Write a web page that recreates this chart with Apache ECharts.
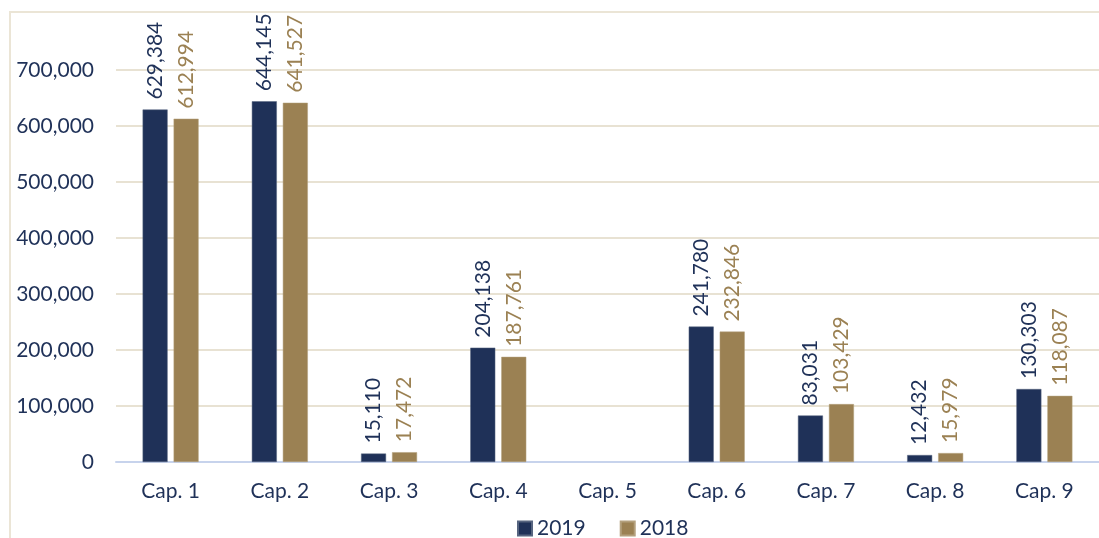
<!DOCTYPE html>
<html>
<head>
<meta charset="utf-8">
<script src="https://cdn.jsdelivr.net/npm/echarts@6/dist/echarts.min.js"></script>
<style>
  html, body { margin: 0; padding: 0; background: #fff; }
  #chart { width: 1099px; height: 538px; }
</style>
</head>
<body>
<div id="chart"></div>
<script>
const categories = ['Cap. 1', 'Cap. 2', 'Cap. 3', 'Cap. 4', 'Cap. 5', 'Cap. 6', 'Cap. 7', 'Cap. 8', 'Cap. 9']
const values2019 = [629384, 644145, 15110, 204138, null, 241780, 83031, 12432, 130303]
const values2018 = [612994, 641527, 17472, 187761, null, 232846, 103429, 15979, 118087]

const navy = '#1f3158'
const gold = '#9b8153'
const fmt = v => v.toLocaleString('en-US')

const chart = echarts.init(document.getElementById('chart'))
chart.setOption({
  animation: false,
  textStyle: { fontFamily: 'Lato, "Open Sans", sans-serif' },
  graphic: [{
    type: 'rect',
    shape: { x: 10, y: 12, width: 1200, height: 600 },
    style: { fill: 'none', stroke: '#ebe5d6', lineWidth: 2 },
    silent: true
  }],
  grid: { left: 116, top: 70, width: 994, bottom: 76, containLabel: false },
  legend: {
    bottom: -6,
    left: 512,
    icon: 'rect',
    itemWidth: 14,
    itemHeight: 14,
    itemGap: 34,
    textStyle: { color: navy, fontSize: 21 },
    data: ['2019', '2018']
  },
  xAxis: {
    type: 'category',
    data: categories,
    axisLine: { lineStyle: { color: '#c7d3ec', width: 2 } },
    axisTick: { show: false },
    axisLabel: { color: navy, fontSize: 21, margin: 19 }
  },
  yAxis: {
    type: 'value',
    min: 0,
    max: 700000,
    interval: 100000,
    axisLine: { show: false },
    axisTick: { show: false },
    splitLine: { lineStyle: { color: '#e8e2d3', width: 2 } },
    axisLabel: { color: navy, fontSize: 21, margin: 22, formatter: v => fmt(v) }
  },
  series: [
    {
      name: '2019',
      type: 'bar',
      data: values2019,
      barWidth: 25,
      barGap: '24%',
      itemStyle: { color: navy, borderColor: '#56647f', borderWidth: 0.5 },
      label: {
        show: true,
        position: 'top',
        rotate: 90,
        align: 'left',
        verticalAlign: 'middle',
        distance: 10,
        color: navy,
        fontSize: 21,
        formatter: p => fmt(p.value)
      }
    },
    {
      name: '2018',
      type: 'bar',
      data: values2018,
      barWidth: 25,
      itemStyle: { color: gold, borderColor: '#b3a07d', borderWidth: 0.5 },
      label: {
        show: true,
        position: 'top',
        rotate: 90,
        align: 'left',
        verticalAlign: 'middle',
        distance: 10,
        color: gold,
        fontSize: 21,
        formatter: p => fmt(p.value)
      }
    }
  ]
})
</script>
</body>
</html>
